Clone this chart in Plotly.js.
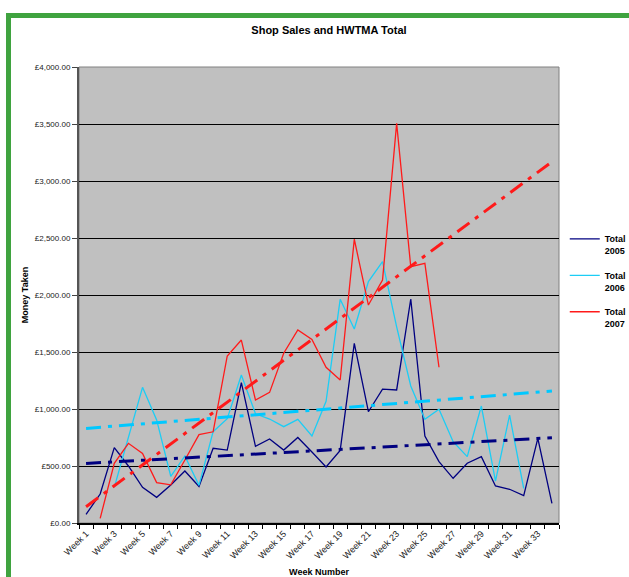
<!DOCTYPE html>
<html>
<head>
<meta charset="utf-8">
<script src="https://cdn.plot.ly/plotly-3.0.1.min.js"></script>
<style>
  html, body { margin: 0; padding: 0; background: #ffffff; overflow: hidden; }
  #frame { position: absolute; left: 6px; top: 13px; width: 700px; height: 700px;
           border-left: 5px solid #3fa33f; border-top: 5px solid #3fa33f; box-sizing: border-box; }
  #chart { position: absolute; left: 0; top: 0; width: 629px; height: 577px; }
</style>
</head>
<body>
<div id="frame"></div>
<div id="chart"></div>
<script>
const weeks = ['Week 1','Week 2','Week 3','Week 4','Week 5','Week 6','Week 7','Week 8','Week 9','Week 10',
  'Week 11','Week 12','Week 13','Week 14','Week 15','Week 16','Week 17','Week 18','Week 19','Week 20',
  'Week 21','Week 22','Week 23','Week 24','Week 25','Week 26','Week 27','Week 28','Week 29','Week 30',
  'Week 31','Week 32','Week 33','Week 34'];
const weekLabels = ['Week 1','','Week 3','','Week 5','','Week 7','','Week 9','',
  'Week 11','','Week 13','','Week 15','','Week 17','','Week 19','',
  'Week 21','','Week 23','','Week 25','','Week 27','','Week 29','',
  'Week 31','','Week 33',''];
const total2005 = [76, 254, 661, 500, 313, 225, 333, 456, 320, 655, 640, 1231, 672, 737, 640, 750, 623, 492, 637, 1576,
  976, 1175, 1167, 1965, 763, 538, 392, 524, 582, 325, 296, 240, 743, 173];
const total2006 = [null, null, 313, 740, 1190, 904, 410, 588, 330, 801, 915, 1298, 958, 912, 845, 909, 763, 1068, 1962, 1702,
  2117, 2292, 1720, 1202, 910, 997, 713, 582, 1026, 368, 947, 304, null, null];
const total2007 = [null, 41, 524, 699, 611, 354, 335, 553, 775, 800, 1465, 1605, 1079, 1146, 1489, 1693, 1611, 1366, 1254, 2489,
  1912, 2132, 3506, 2248, 2278, 1366, null, null, null, null, null, null, null, null];
const trendWeeks = ['Week 1', 'Week 34'];
const trend2005 = [523, 748];
const trend2006 = [830, 1158];
const trend2007 = [143, 3169];
const seriesNames = ['Total<br>2005', 'Total<br>2006', 'Total<br>2007'];
const colors = ['#000080', '#1ccdf5', '#ff1a1a'];

const dataSets = [total2005, total2006, total2007];
const trends = [trend2005, trend2006, trend2007];
const traces = [];
dataSets.forEach((vals, i) => {
  traces.push({
    x: weeks, y: vals, type: 'scatter', mode: 'lines', name: seriesNames[i],
    line: { color: colors[i], width: 1.3 }, legendgroup: 'g' + i, connectgaps: false
  });
});
trends.forEach((vals, i) => {
  traces.push({
    x: trendWeeks, y: vals, type: 'scatter', mode: 'lines', showlegend: false,
    line: { color: i === 1 ? '#00c8ff' : colors[i], width: 3, dash: '15px,7px,4px,7px' }
  });
});

const fam = 'Liberation Sans, Arial, sans-serif';
const layout = {
  width: 629, height: 577,
  paper_bgcolor: 'rgba(0,0,0,0)', plot_bgcolor: '#c0c0c0',
  margin: { l: 79, r: 70, t: 67, b: 54, autoexpand: false },
  title: { text: 'Shop Sales and HWTMA Total', x: 0.523, xanchor: 'center', y: 0.948, yanchor: 'middle',
           font: { family: fam, size: 11, color: '#000', weight: 'bold' } },
  xaxis: {
    type: 'category', categoryorder: 'array', categoryarray: weeks, range: [-0.5, 33.5],
    tickmode: 'array', tickvals: weeks, ticktext: weekLabels, tickson: 'boundaries',
    ticks: 'outside', ticklen: 4, tickcolor: '#000', tickwidth: 1,
    showline: true, linecolor: '#000', linewidth: 2, showgrid: false, zeroline: false,
    tickangle: -45, tickfont: { family: fam, size: 9, color: '#222' }, automargin: false,
    title: { text: 'Week Number', standoff: 16, font: { family: fam, size: 9, color: '#000', weight: 'bold' } }
  },
  yaxis: {
    range: [0, 4000], tickmode: 'linear', tick0: 0, dtick: 500, tickprefix: '£', tickformat: ',.2f',
    ticks: 'outside', ticklen: 5, tickcolor: '#444', showline: true, linecolor: '#555', linewidth: 2,
    showgrid: true, gridcolor: '#000', gridwidth: 1, zeroline: false,
    tickfont: { family: fam, size: 8, color: '#222' }, automargin: false,
    title: { text: 'Money Taken', standoff: 5, font: { family: fam, size: 9, color: '#000', weight: 'bold' } }
  },
  shapes: [{ type: 'rect', xref: 'paper', yref: 'paper', x0: 0, x1: 1, y0: 0, y1: 1,
             line: { color: '#808080', width: 1 }, layer: 'below' }],
  legend: { x: 1.012, xanchor: 'left', y: 0.65, yanchor: 'top', valign: 'top', traceorder: 'grouped',
            tracegroupgap: 10, itemwidth: 30, bgcolor: 'rgba(0,0,0,0)',
            font: { family: fam, size: 9, color: '#000', weight: 'bold' } },
  showlegend: true
};
Plotly.newPlot('chart', traces, layout, { displayModeBar: false, staticPlot: true });
</script>
</body>
</html>
